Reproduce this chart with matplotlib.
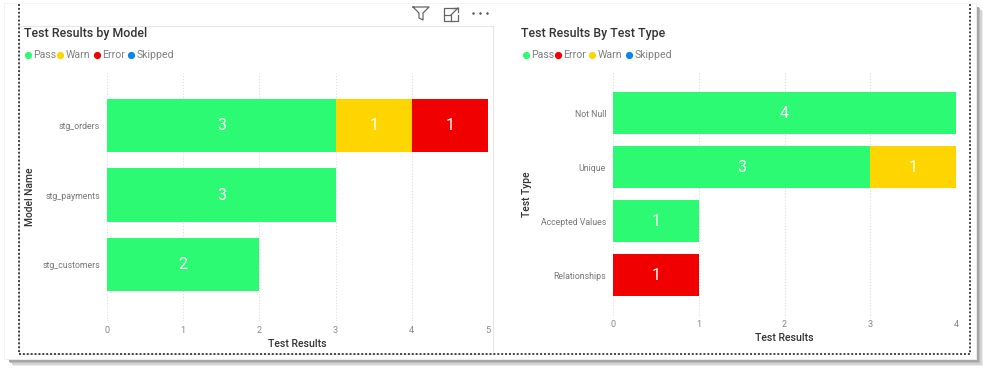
import matplotlib
matplotlib.use('Agg')
import matplotlib.pyplot as plt
from matplotlib.patches import Rectangle

W, H = 989, 373

plt.rcParams['font.family'] = ['Roboto', 'DejaVu Sans']

PASS = '#2CFA72'
WARN = '#FFD500'
ERROR = '#F00000'
SKIPPED = '#0A84F5'

# left chart
models = ['stg_orders', 'stg_payments', 'stg_customers']
model_pass = [3, 3, 2]
model_warn = [1, 0, 0]
model_error = [1, 0, 0]

# right chart
test_types = ['Not Null', 'Unique', 'Accepted Values', 'Relationships']
type_pass = [4, 3, 1, 0]
type_warn = [0, 1, 0, 0]
type_error = [0, 0, 0, 1]

left_legend = ['Pass', 'Warn', 'Error', 'Skipped']
left_colors = [PASS, WARN, ERROR, SKIPPED]
right_legend = ['Pass', 'Error', 'Warn', 'Skipped']
right_colors = [PASS, ERROR, WARN, SKIPPED]


def make_axes(fig, x0, x1, y0, y1, **kw):
    return fig.add_axes([x0 / W, 1 - y1 / H, (x1 - x0) / W, (y1 - y0) / H], **kw)


def draw_bars(ax, cats, stacks, xmax, ylim, xlabel_at, ylabel, ylabel_at, xpad):
    pos = list(range(len(cats)))
    left = [0] * len(cats)
    for vals, col in stacks:
        ax.barh(pos, vals, left=left, height=0.77, color=col, zorder=3)
        for i, v in enumerate(vals):
            if v > 0:
                ax.text(left[i] + v / 2, i, str(v), color='white', ha='center',
                        va='center', fontsize=11.5, zorder=4)
        left = [a + b for a, b in zip(left, vals)]
    ax.set_xlim(0, xmax)
    ax.set_ylim(*ylim)
    ax.set_yticks(pos)
    ax.set_yticklabels(cats, fontsize=6.3, color='#777777')
    ax.set_xticks(range(xmax + 1))
    ax.tick_params(axis='y', length=0, pad=5)
    ax.tick_params(axis='x', length=0, pad=xpad, labelsize=6.6, labelcolor='#888888')
    ax.grid(axis='x', color='#DDDDDD', linestyle=':', linewidth=0.8, zorder=0)
    ax.set_axisbelow(True)
    for s in ax.spines.values():
        s.set_visible(False)
    ax.patch.set_alpha(0)
    ax.set_xlabel('Test Results', fontsize=7.6, color='#333333', fontweight='medium', va='center')
    ax.xaxis.set_label_coords(0.5, xlabel_at)
    ax.set_ylabel(ylabel, fontsize=7.4, color='#333333', fontweight='medium', va='center')
    ax.yaxis.set_label_coords(*ylabel_at)


def draw_legend(bg, names, colors, xs, y):
    for name, col, x in zip(names, colors, xs):
        bg.plot([x], [y], 'o', color=col, markersize=5.2, mew=0)
        bg.text(x + 5.5, y, name, fontsize=7.6, color='#808080', va='center')


fig = plt.figure(figsize=(W / 100, H / 100), dpi=100, facecolor='white')

# pixel-space layer for the card, frames, icons and legends
bg = fig.add_axes([0, 0, 1, 1])
bg.set_xlim(0, W)
bg.set_ylim(H, 0)
bg.axis('off')

# card shadow
for off, shade in [(7, '#EDEDED'), (5.5, '#D4D4D4'), (4, '#BBBBBB'), (2.5, '#A6A6A6'), (1, '#989898')]:
    bg.add_patch(Rectangle((6 + off, 4 + off), 970, 355, color=shade, lw=0))
bg.add_patch(Rectangle((4, 3), 972, 356, facecolor='white', edgecolor='#F2F2F2', lw=0.6))

# left panel outline
bg.add_patch(Rectangle((19, 26), 474, 328, fill=False, edgecolor='#E6E6E6', lw=0.8))

# dotted selection frame
bg.plot([19, 19, 970, 970], [4, 354, 354, 4], color='#444444', lw=1.4, linestyle=(0, (1, 1)))

# titles
bg.text(24, 33, 'Test Results by Model', fontsize=8.9, color='#333333', va='center', fontweight='medium')
bg.text(521, 33, 'Test Results By Test Type', fontsize=8.9, color='#333333', va='center', fontweight='medium')

draw_legend(bg, left_legend, left_colors, [28, 60, 97, 131], 55)
draw_legend(bg, right_legend, right_colors, [526, 558, 592, 629], 55)

# filter / focus / more icons
icon = dict(color='#666666', lw=0.9)
bg.plot([413, 429, 423, 423, 419, 419, 413], [7, 7, 13, 20, 18, 13, 7], **icon)
bg.plot([458, 444, 444, 458, 458], [8, 8, 21, 21, 15], **icon)
bg.plot([444, 451, 451], [15, 15, 21], **icon)
bg.plot([451, 458], [15, 8], **icon)
bg.plot([453, 458, 458], [8, 8, 12], **icon)
bg.plot([473, 480, 487], [13, 13, 13], 'o', color='#555555', markersize=1.8, mew=0)

ax1 = make_axes(fig, 107, 488, 73, 321)
draw_bars(ax1, models, [(model_pass, PASS), (model_warn, WARN), (model_error, ERROR)],
          5, (2.81, -0.755), -0.093, 'Model Name', (-0.202, 0.50), 3.5)

ax2 = make_axes(fig, 613, 956, 71, 318)
draw_bars(ax2, test_types, [(type_pass, PASS), (type_warn, WARN), (type_error, ERROR)],
          4, (3.79, -0.78), -0.081, 'Test Type', (-0.25, 0.50), 1.5)

fig.savefig('out.png', dpi=100)
